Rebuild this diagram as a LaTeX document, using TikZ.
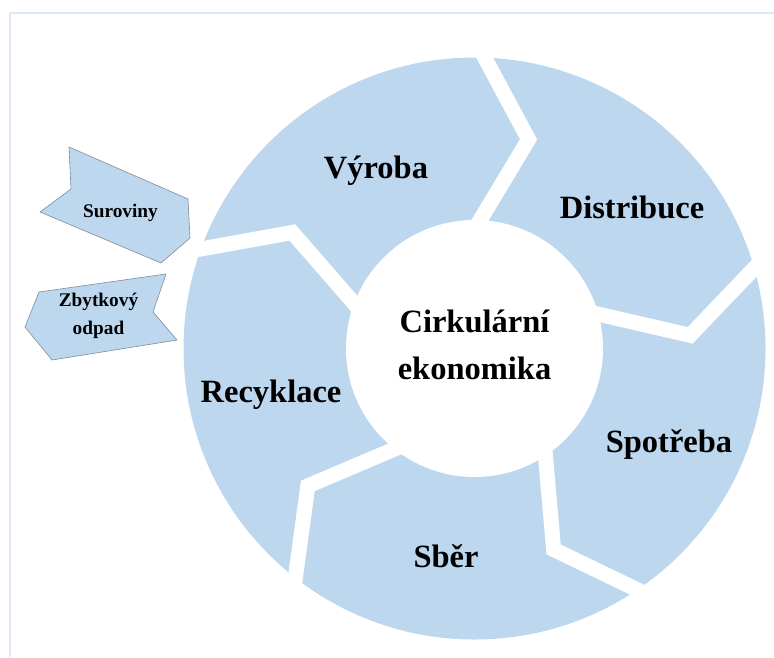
\documentclass[tikz,border=0pt]{standalone}
\usepackage{fontspec}
\setmainfont{Liberation Serif}
\usetikzlibrary{calc}
\definecolor{ringblue}{HTML}{BDD7EE}
\definecolor{frameblue}{HTML}{DDE8F5}
\definecolor{edgegray}{HTML}{7F8C9A}

\begin{document}
\begin{tikzpicture}[
        x=1pt, y=-1pt,
        seglabel/.style={font=\fontsize{32.5}{39}\selectfont\bfseries, inner sep=0pt, anchor=base},
        hublabel/.style={font=\fontsize{32.5}{47}\selectfont\bfseries, align=center, inner sep=0pt},
        sidebox/.style={fill=ringblue, draw=edgegray, line width=0.6pt, line join=miter},
        sidelabel/.style={font=\fontsize{19.3}{28}\selectfont\bfseries, align=center, inner sep=0pt},
        gapline/.style={white, line width=15pt, line join=miter, line cap=butt}
    ]
    \useasboundingbox (0,0) rectangle (774,657);

    % Frame
    \draw[frameblue, line width=2pt] (10,657) -- (10,12.5) -- (774,12.5);

    % Ring
    \coordinate (centre) at (474.5,348.5);
    \fill[ringblue] (centre) circle[radius=291];

    % Gaps between the segments
    \begin{scope}
        \clip (centre) circle[radius=292];
        \foreach \a in {-88,-16,56,128,200} {
            \coordinate (gapout) at ($(centre)+(\a:291)$);
            \coordinate (gaptip) at ($(centre)+({\a+12.5}:216)$);
            \coordinate (gapin) at ($(centre)+({\a+0.5}:128.5)$);
            \draw[gapline] ($(gaptip)!1.4!(gapout)$) -- (gaptip) -- ($(gaptip)!1.4!(gapin)$);
        }
    \end{scope}

    % Hub
    \fill[white] (centre) circle[radius=128.5];
    \node[hublabel] (hub) at (474.5,345.2) {Cirkulární\\ekonomika};

    % Segment labels
    \node[seglabel] (vyroba) at (376,178) {Výroba};
    \node[seglabel] (distribuce) at (632,218) {Distribuce};
    \node[seglabel] (spotreba) at (669,452) {Spotřeba};
    \node[seglabel] (sber) at (446,567) {Sběr};
    \node[seglabel] (recyklace) at (271,402) {Recyklace};

    % Side arrows
    \draw[sidebox] (69,147) -- (188,199) -- (190,238) -- (161,263) -- (40,212) -- (71,189) -- cycle;
    \node[sidelabel, anchor=base] (suroviny) at (120.5,217) {Suroviny};

    \draw[sidebox] (39,292) -- (166,274) -- (153,312) -- (177,340) -- (52,360) -- (25,327) -- cycle;
    \node[sidelabel] (odpad) at (98.5,316.2) {Zbytkový\\odpad};

\end{tikzpicture}
\end{document}
